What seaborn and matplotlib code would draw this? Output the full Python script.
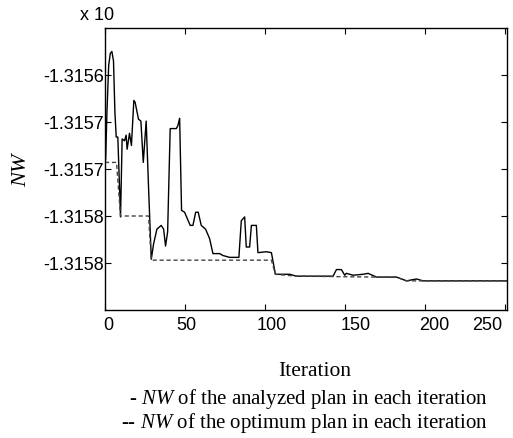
import numpy as np
import matplotlib
matplotlib.use("Agg")
import matplotlib.pyplot as plt
import matplotlib.transforms as mtransforms
import seaborn as sns

plt.rcParams["mathtext.fontset"] = "custom"
plt.rcParams["mathtext.it"] = "Liberation Serif:italic"
plt.rcParams["mathtext.rm"] = "Liberation Serif"

# NW of the analyzed plan
iter_analyzed = [0, 0.4, 1.2, 2.3, 3.3, 4.3, 5.3, 6.2, 7, 8, 9.7, 10.7, 12.2, 13.2, 13.8,
                 15.3, 16.5, 18, 18.8, 20.9, 22.4, 23.9, 25.7, 27.2, 28.9, 30.3, 32.4,
                 35.1, 36.6, 37.8, 39.1, 40.7, 44.5, 45.5, 46.6, 47.8, 49.7, 53.2, 54.9,
                 56.6, 58.2, 60.1, 62.8, 65.3, 67.4, 71.6, 73.6, 77.8, 83.6, 85.1, 87.2,
                 88.2, 90.3, 91.4, 94.5, 95.5, 100.7, 103.9, 106.4, 111.1, 115.3, 119.5,
                 142.4, 144.5, 147.6, 149.7, 150.7, 154.9, 161.1, 164.3, 169.5, 177.8,
                 182, 188.3, 194.5, 198.6, 251]
nw_analyzed = [-1.315693, -1.315690, -1.315640, -1.315590, -1.315577, -1.315575,
               -1.315585, -1.315640, -1.315666, -1.315666, -1.315751, -1.315668,
               -1.315670, -1.315664, -1.315679, -1.315662, -1.315675, -1.315627,
               -1.315629, -1.315647, -1.315649, -1.315693, -1.315649, -1.315720,
               -1.315796, -1.315780, -1.315764, -1.315760, -1.315764, -1.315782,
               -1.315767, -1.315657, -1.315657, -1.315654, -1.315646, -1.315744,
               -1.315746, -1.315760, -1.315760, -1.315746, -1.315746, -1.315760,
               -1.315764, -1.315774, -1.315790, -1.315790, -1.315792, -1.315794,
               -1.315794, -1.315755, -1.315751, -1.315783, -1.315783, -1.315760,
               -1.315760, -1.315789, -1.315788, -1.315789, -1.315812, -1.315812,
               -1.315812, -1.315814, -1.315814, -1.315807, -1.315807, -1.315813,
               -1.315811, -1.315813, -1.315812, -1.315811, -1.315815, -1.315815,
               -1.315815, -1.315819, -1.315817, -1.315819, -1.315819]

# NW of the optimum plan (running best)
iter_optimum = [0, 7.2, 9.7, 27.2, 28.9, 103.9, 106.4, 119.5, 169.5, 182, 188.3, 251]
nw_optimum = [-1.315693, -1.315693, -1.315750, -1.315750, -1.315797, -1.315797,
              -1.315812, -1.315814, -1.315815, -1.315815, -1.315819, -1.315819]

ytick_vals = [-1.31560, -1.31565, -1.31570, -1.31575, -1.31580]
ytick_text = ["-1.3156", "-1.3157", "-1.3157", "-1.3158", "-1.3158"]
xtick_vals = [0, 50, 100, 150, 200, 250]

W, H = 513, 439
fig = plt.figure(figsize=(W / 100, H / 100), dpi=100)
ax = fig.add_axes([105 / W, 1 - 311 / H, 402 / W, 282 / H])

sns.lineplot(x=iter_analyzed, y=nw_analyzed, ax=ax, color="black", lw=1.0,
             estimator=None, sort=False)
sns.lineplot(x=iter_optimum, y=nw_optimum, ax=ax, color="#444444", lw=1.0,
             estimator=None, sort=False, linestyle=(0, (3, 2)))

ax.set_xlim(0, 251)
ax.set_ylim(-1.31585, -1.31555)
ax.set_xticks(xtick_vals)
ax.set_xticklabels([str(v) for v in xtick_vals])
ax.set_yticks(ytick_vals)
ax.set_yticklabels(ytick_text)
ax.tick_params(direction="in", length=4, width=0.8, top=True, right=True,
               labelsize=13)
ax.tick_params(axis="y", pad=0.5)
ax.tick_params(axis="x", pad=4.5)
for lab in ax.get_xticklabels() + ax.get_yticklabels():
    lab.set_family("Liberation Sans")
for sp in ax.spines.values():
    sp.set_linewidth(1.0)
ax.set_xlabel("")
ax.set_ylabel("")

# the x labels in the original sit a little off their ticks
x_shift = [3.5, 1.5, 6.5, 10.5, 8.5, -18.5]
for tick, dx in zip(ax.xaxis.get_major_ticks(), x_shift):
    lab = tick.label1
    lab.set_transform(lab.get_transform() +
                      mtransforms.ScaledTranslation(dx / 100, 0, fig.dpi_scale_trans))

fig.text(97 / W, 1 - 16 / H, "x 10", ha="center", va="center",
         family="Liberation Sans", fontsize=13)
fig.text(22 / W, 1 - 170 / H, "NW", rotation=90, ha="center", va="center",
         family="Liberation Serif", style="italic", fontsize=16)
fig.text(315 / W, 1 - 372 / H, "Iteration", ha="center", va="center",
         family="Liberation Serif", fontsize=15.5)
fig.text(488 / W, 1 - 404 / H, "- $\\mathit{NW}$ of the analyzed plan in each iteration",
         ha="right", va="baseline", family="Liberation Serif", fontsize=15)
fig.text(488 / W, 1 - 428 / H, "-- $\\mathit{NW}$ of the optimum plan in each iteration",
         ha="right", va="baseline", family="Liberation Serif", fontsize=15)

fig.savefig("out.png", dpi=100)
